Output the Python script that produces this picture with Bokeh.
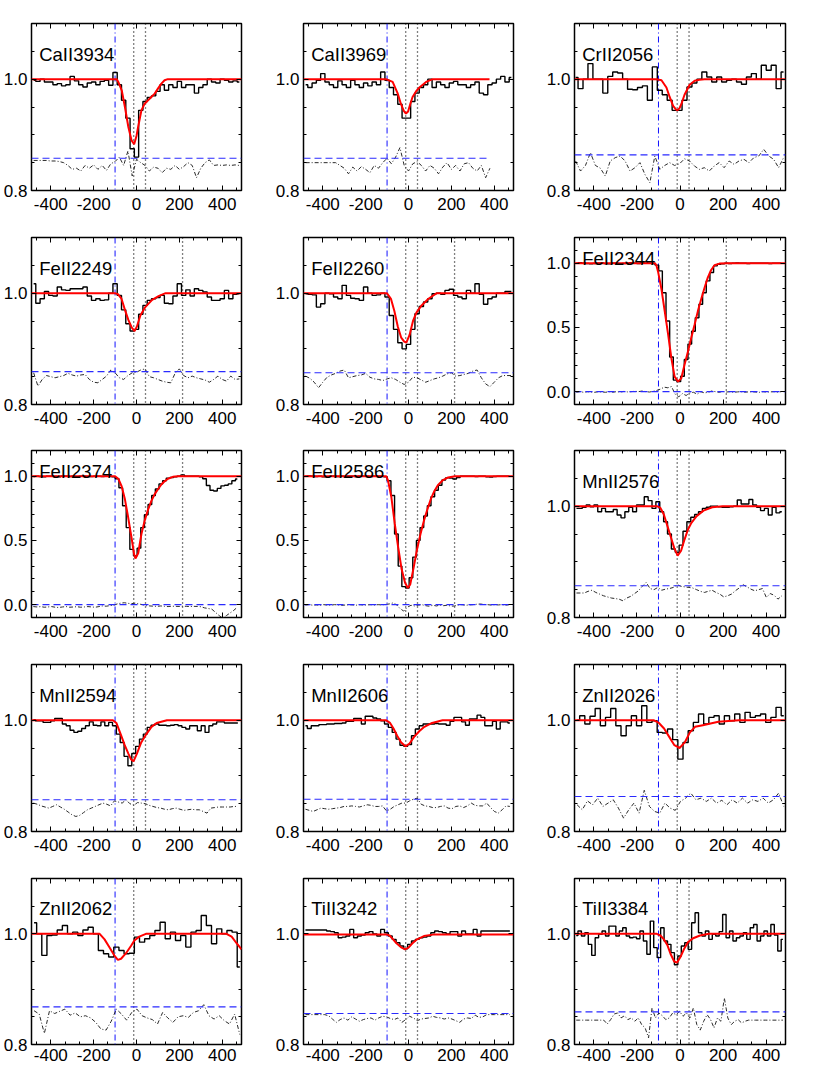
import numpy as np
from bokeh.plotting import figure
from bokeh.layouts import column, row
from bokeh.models import (Range1d, FixedTicker, LinearAxis, Span, Label,
                          PrintfTickFormatter, CustomJSTickFormatter)
from bokeh.embed import file_html
from bokeh.resources import INLINE

FONT = "Liberation Sans"

# ---------------- panel meta ----------------
line_names = ["CaII3934", "CaII3969", "CrII2056",
              "FeII2249", "FeII2260", "FeII2344",
              "FeII2374", "FeII2586", "MnII2576",
              "MnII2594", "MnII2606", "ZnII2026",
              "ZnII2062", "TiII3242", "TiII3384"]
strong = [False, False, False, False, False, True, True, True,
          False, False, False, False, False, False, False]
bin_start = [-480, -480, -485, -480, -480, -481.5, -481.5, -481.5,
             -481, -481, -481, -478, -478, -481, -482]
bin_width = [20, 20, 23, 20, 20, 17, 17, 17, 18, 18, 18, 24, 24, 18, 16]
ref_level = [0.858, 0.858, 0.864, 0.859, 0.857, 0.0, 0.0, 0.0,
             0.857, 0.857, 0.858, 0.863, 0.868, 0.856, 0.859]
ref_xmax = [490, 378, 490, 490, 490, 490, 490, 490,
            490, 490, 490, 490, 490, 490, 490]
blue_marker = -100
comp_vel = [-13, 42, 215]
n_comp = [2, 2, 2, 3, 3, 3, 3, 3, 2, 2, 2, 1, 1, 2, 2]

x_major = [-400, -200, 0, 200, 400]
x_minor = [-466.67, -333.33, -266.67, -133.33, -66.67, 66.67, 133.33, 266.67, 333.33, 466.67]
weak_major = [0.8, 1.0]
weak_minor = [0.85, 0.9, 0.95, 1.05]
strong_major = [0.0, 0.5, 1.0]
strong_minor = [-0.1, 0.1, 0.2, 0.3, 0.4, 0.6, 0.7, 0.8, 0.9, 1.1]

# ---------------- spectra ----------------
ca3934_flux = [0.998, 0.996, 1.0, 0.995, 0.995, 0.99, 0.992, 0.988, 0.99, 1.005,
               0.997, 0.99, 0.986, 0.993, 0.995, 0.99, 0.996, 0.998, 0.989, 1.012,
               0.99, 0.962, 0.93, 0.875, 0.86, 0.944, 0.96, 0.967, 0.97, 0.978,
               0.99, 0.98, 0.99, 0.985, 0.996, 0.985, 0.99, 0.99, 0.975, 0.985,
               0.99, 1.0, 0.995, 0.993, 1.0, 0.998, 0.995, 0.997, 0.995]
ca3934_err = [0.854, 0.854, 0.854, 0.854, 0.853, 0.853, 0.852, 0.85, 0.845, 0.838,
              0.84, 0.835, 0.845, 0.84, 0.846, 0.838, 0.845, 0.836, 0.848, 0.852,
              0.86, 0.845, 0.871, 0.826, 0.856, 0.85, 0.845, 0.835, 0.842, 0.84,
              0.832, 0.84, 0.838, 0.845, 0.838, 0.843, 0.85, 0.845, 0.823, 0.84,
              0.85, 0.855, 0.845, 0.846, 0.845, 0.846, 0.845, 0.846, 0.845]
ca3934_fit_v = [-490, -92, -85, -69, -54, -38, -23, -11, 0, 8, 23, 38, 54, 69, 85, 100, 116, 131, 146, 490]
ca3934_fit = [1.0, 1.0, 0.995, 0.98, 0.95, 0.914, 0.89, 0.883, 0.898, 0.915, 0.944, 0.956, 0.962, 0.968,
              0.974, 0.983, 0.992, 0.998, 1.0, 1.0]

ca3969_flux = [0.99, 0.985, 0.993, 0.998, 1.01, 0.995, 0.99, 0.985, 0.997, 0.99,
               0.985, 0.998, 0.99, 0.985, 0.993, 0.988, 0.995, 0.99, 1.013, 0.998,
               0.985, 0.972, 0.955, 0.93, 0.93, 0.96, 0.975, 0.985, 0.99, 1.0,
               0.985, 0.995, 0.99, 0.985, 0.993, 0.996, 0.99, 0.99, 0.985, 0.99,
               0.995, 0.975, 0.972, 0.99, 0.993, 1.0, 1.005, 0.995, 1.003]
ca3969_err = [0.85, 0.85, 0.85, 0.85, 0.85, 0.85, 0.85, 0.85, 0.845, 0.84,
              0.83, 0.842, 0.835, 0.843, 0.838, 0.832, 0.845, 0.84, 0.85, 0.858,
              0.848, 0.86, 0.877, 0.845, 0.835, 0.848, 0.852, 0.845, 0.835, 0.845,
              0.84, 0.83, 0.842, 0.85, 0.838, 0.845, 0.835, 0.848, 0.85, 0.84,
              0.835, 0.845, 0.823, 0.84]
ca3969_fit_v = [-490, -105, -74, -51, -35, -22, -12, -2, 8, 19, 35, 51, 82, 113, 378]
ca3969_fit = [1.0, 1.0, 0.995, 0.975, 0.955, 0.943, 0.938, 0.942, 0.955, 0.968, 0.978, 0.985, 0.995, 1.0, 1.0]

cr2056_flux = [1.003, 0.983, 1.0, 1.028, 1.0, 1.0, 0.975, 1.005, 1.013, 1.011,
               1.0, 0.982, 0.981, 0.985, 0.988, 0.962, 1.022, 0.98, 0.972, 0.962,
               0.944, 0.944, 0.962, 0.986, 0.993, 1.0, 1.013, 1.004, 0.995, 1.004,
               0.995, 0.998, 1.0, 0.995, 0.991, 1.004, 1.01, 1.0, 1.025, 1.016,
               1.025, 0.983, 1.013]
cr2056_err = [0.853, 0.835, 0.845, 0.868, 0.845, 0.84, 0.826, 0.853, 0.859, 0.862,
              0.853, 0.835, 0.841, 0.85, 0.829, 0.814, 0.862, 0.838, 0.845, 0.85,
              0.845, 0.848, 0.857, 0.853, 0.844, 0.838, 0.841, 0.835, 0.844, 0.85,
              0.841, 0.853, 0.847, 0.853, 0.856, 0.85, 0.859, 0.862, 0.874, 0.862,
              0.856, 0.841, 0.859]
cr2056_fit_v = [-490, -109, -86, -63, -48, -32, -20, -12, -2, 6, 21, 45, 68, 90, 114, 490]
cr2056_fit = [1.0, 1.0, 0.998, 0.985, 0.968, 0.952, 0.946, 0.944, 0.948, 0.955, 0.972, 0.99, 0.997,
              0.999, 1.0, 1.0]

fe2249_flux = [1.017, 0.982, 0.99, 1.003, 0.996, 0.995, 1.011, 1.006, 1.005, 1.008,
               1.008, 1.008, 1.011, 0.995, 0.987, 0.99, 0.987, 0.988, 1.0, 1.017,
               0.996, 0.97, 0.945, 0.932, 0.935, 0.962, 0.978, 0.987, 0.99, 0.992,
               0.996, 0.982, 0.981, 0.995, 1.017, 0.996, 1.006, 0.995, 1.008, 1.005,
               1.002, 0.993, 0.987, 0.987, 0.99, 1.005, 0.99, 0.998, 0.999]
fe2249_err = [0.857, 0.833, 0.845, 0.852, 0.85, 0.848, 0.85, 0.852, 0.856, 0.853,
              0.851, 0.853, 0.854, 0.845, 0.84, 0.839, 0.845, 0.851, 0.862, 0.857,
              0.848, 0.845, 0.852, 0.857, 0.858, 0.862, 0.864, 0.85, 0.848, 0.845,
              0.842, 0.84, 0.839, 0.856, 0.864, 0.852, 0.848, 0.851, 0.848, 0.846,
              0.844, 0.84, 0.845, 0.851, 0.845, 0.842, 0.851, 0.845, 0.846]
fe2249_fit_v = [-490, -101, -86, -70, -54, -38, -22, -9, 2, 18, 41, 73, 105, 136, 490]
fe2249_fit = [1.0, 1.0, 0.998, 0.99, 0.97, 0.952, 0.938, 0.932, 0.94, 0.96, 0.975, 0.988, 0.995, 1.0, 1.0]

fe2260_flux = [0.999, 0.998, 0.997, 0.975, 0.981, 1.0, 0.999, 0.993, 0.99, 1.014,
               0.996, 0.991, 0.99, 0.987, 1.011, 1.0, 0.996, 0.997, 1.0, 0.993,
               0.96, 0.935, 0.911, 0.9, 0.908, 0.935, 0.963, 0.976, 0.984, 0.99,
               0.999, 1.0, 0.998, 1.005, 1.007, 0.996, 0.993, 0.99, 1.005, 1.0,
               1.017, 0.998, 0.98, 0.99, 0.993, 1.0, 1.0, 1.003, 1.003]
fe2260_err = [0.851, 0.847, 0.84, 0.83, 0.84, 0.849, 0.853, 0.856, 0.86, 0.862,
              0.848, 0.85, 0.852, 0.853, 0.856, 0.849, 0.846, 0.845, 0.843, 0.846,
              0.848, 0.845, 0.84, 0.836, 0.84, 0.849, 0.848, 0.844, 0.84, 0.843,
              0.846, 0.848, 0.851, 0.855, 0.857, 0.851, 0.852, 0.854, 0.856, 0.86,
              0.862, 0.848, 0.837, 0.832, 0.84, 0.848, 0.852, 0.852, 0.852]
fe2260_fit_v = [-490, -101, -82, -66, -50, -34, -20, -10, 5, 21, 37, 61, 93, 132, 490]
fe2260_fit = [1.0, 1.0, 0.99, 0.968, 0.94, 0.92, 0.913, 0.911, 0.925, 0.95, 0.965, 0.978, 0.99, 1.0, 1.0]

fe2344_flux = [1.0, 1.003, 1.0, 0.998, 0.995, 0.998, 1.0, 1.002, 0.997, 0.995,
               1.0, 1.0, 0.997, 0.998, 1.0, 1.003, 1.0, 0.998, 1.005, 1.01,
               1.0, 0.998, 0.985, 0.94, 0.77, 0.55, 0.27, 0.09, 0.078, 0.12,
               0.25, 0.37, 0.47, 0.575, 0.68, 0.77, 0.862, 0.927, 0.979, 0.992,
               0.995, 1.0, 0.998, 1.0, 1.002, 1.0, 1.0, 0.998, 1.0, 1.0,
               1.0, 1.0, 1.0, 0.998, 1.0, 1.0, 1.0]
fe2344_err = [-0.005, 0.0, -0.005, 0.0, -0.003, -0.005, 0.0, -0.002, -0.005, 0.0,
              -0.004, 0.0, -0.003, 0.002, -0.002, 0.0, 0.003, 0.0, 0.005, 0.0,
              -0.003, 0.003, 0.01, 0.02, 0.035, 0.03, 0.04, -0.02, -0.04, -0.015,
              -0.03, -0.01, -0.005, -0.02, 0.0, -0.01, -0.005, 0.005, 0.0, -0.005,
              0.002, -0.003, 0.0, -0.005, -0.002, 0.0, -0.004, -0.002, 0.0, -0.003,
              -0.005, 0.0, -0.003, -0.002, 0.0, -0.004, 0.0]
fe2344_fit_v = [-490, -117, -110, -101, -86, -71, -55, -40, -25, -9, 6, 21, 37, 52, 68, 83, 98, 114,
                129, 144, 160, 183, 221, 490]
fe2344_fit = [1.0, 1.0, 0.985, 0.927, 0.796, 0.627, 0.444, 0.26, 0.117, 0.078, 0.104, 0.209, 0.313,
              0.418, 0.522, 0.627, 0.718, 0.809, 0.888, 0.945, 0.984, 0.997, 1.0, 1.0]

fe2374_flux = [0.998, 1.0, 0.997, 0.995, 1.0, 1.0, 0.998, 0.996, 1.0, 1.0,
               0.997, 1.0, 0.995, 1.0, 1.0, 0.998, 0.997, 1.0, 1.0, 0.998,
               1.0, 1.0, 0.995, 0.98, 0.91, 0.77, 0.6, 0.43, 0.38, 0.44,
               0.6, 0.7, 0.78, 0.85, 0.9, 0.94, 0.965, 0.985, 0.99, 0.995,
               1.0, 1.01, 1.0, 1.0, 1.0, 1.0, 0.995, 0.98, 0.927, 0.89,
               0.885, 0.905, 0.925, 0.93, 0.94, 0.965, 0.978]
fe2374_err = [-0.015, -0.018, -0.015, -0.02, -0.018, -0.015, -0.02, -0.022, -0.018, -0.015,
              -0.02, -0.018, -0.016, -0.02, -0.018, -0.015, -0.018, -0.02, -0.015, -0.01,
              -0.012, -0.008, -0.005, 0.005, 0.012, 0.015, 0.01, 0.008, 0.012, 0.005,
              0.0, -0.008, -0.01, -0.012, -0.013, -0.01, -0.013, -0.015, -0.012, -0.013,
              -0.014, -0.012, -0.013, -0.015, -0.013, -0.014, -0.016, -0.025, -0.03, -0.035,
              -0.06, -0.085, -0.105, -0.085, -0.065, -0.045, -0.02]
fe2374_fit_v = [-490, -100, -85, -69, -54, -39, -23, -11, -5, 8, 23, 39, 54, 70, 85, 101, 116, 131,
                147, 170, 193, 490]
fe2374_fit = [1.0, 1.0, 0.98, 0.92, 0.82, 0.68, 0.52, 0.39, 0.36, 0.40, 0.55, 0.66, 0.74, 0.81, 0.86,
              0.90, 0.935, 0.96, 0.98, 0.995, 1.0, 1.0]

fe2586_flux = [1.0, 1.002, 1.0, 0.998, 1.0, 0.995, 0.997, 1.0, 1.0, 0.998,
               1.0, 0.997, 1.0, 1.0, 0.998, 1.0, 1.0, 1.0, 0.998, 1.0,
               1.0, 1.0, 0.995, 0.965, 0.85, 0.55, 0.3, 0.14, 0.13, 0.21,
               0.37, 0.5, 0.6, 0.69, 0.77, 0.84, 0.89, 0.93, 0.97, 0.987,
               0.985, 0.978, 0.99, 1.0, 1.0, 1.0, 1.0, 0.998, 1.0, 1.0,
               0.995, 0.993, 0.998, 1.0, 1.0, 1.0, 1.0]
fe2586_err = [-0.003, 0.0, -0.004, -0.002, -0.005, 0.0, -0.003, -0.004, 0.0, -0.002,
              -0.005, -0.003, 0.0, -0.002, -0.004, 0.0, -0.003, -0.002, 0.0, -0.003,
              0.0, -0.002, 0.002, 0.005, 0.013, 0.0, -0.03, -0.05, -0.02, -0.005,
              -0.01, -0.004, 0.0, -0.008, -0.012, -0.005, -0.01, -0.003, -0.008, -0.004,
              -0.012, -0.01, -0.003, 0.0, -0.005, -0.002, 0.0, 0.003, 0.005, 0.002,
              0.0, -0.003, 0.0, -0.002, 0.0, -0.004, 0.0]
fe2586_fit_v = [-490, -104, -96, -80, -64, -48, -32, -16, -3, 8, 24, 40, 56, 72, 89, 105, 121, 137,
                161, 185, 217, 490]
fe2586_fit = [1.0, 1.0, 0.97, 0.838, 0.628, 0.445, 0.275, 0.17, 0.13, 0.157, 0.288, 0.432, 0.55,
              0.654, 0.746, 0.825, 0.885, 0.93, 0.97, 0.99, 1.0, 1.0]

mn2576_flux = [0.996, 0.996, 0.998, 1.002, 0.999, 1.002, 0.99, 0.996, 0.99, 0.99,
               0.994, 0.984, 0.979, 0.99, 0.998, 0.99, 1.002, 1.002, 1.017, 1.01,
               0.996, 1.008, 0.99, 0.972, 0.95, 0.923, 0.917, 0.93, 0.955, 0.972,
               0.98, 0.985, 0.99, 0.996, 0.998, 1.0, 1.0, 0.999, 0.998, 0.998,
               0.999, 1.0, 1.011, 1.004, 1.004, 1.012, 1.002, 0.998, 0.992, 0.996,
               0.984, 0.998, 0.988, 0.99]
mn2576_err = [0.844, 0.844, 0.844, 0.847, 0.849, 0.845, 0.842, 0.839, 0.837, 0.835,
              0.834, 0.833, 0.83, 0.835, 0.838, 0.843, 0.848, 0.856, 0.863, 0.852,
              0.85, 0.854, 0.849, 0.851, 0.852, 0.854, 0.859, 0.856, 0.855, 0.854,
              0.853, 0.85, 0.847, 0.845, 0.847, 0.849, 0.845, 0.842, 0.837, 0.839,
              0.842, 0.848, 0.853, 0.859, 0.855, 0.851, 0.848, 0.85, 0.852, 0.836,
              0.843, 0.84, 0.833, 0.839]
mn2576_fit_v = [-490, -107, -91, -75, -59, -43, -27, -11, 5, 21, 37, 53, 77, 109, 150, 198, 490]
mn2576_fit = [1.0, 1.0, 0.997, 0.985, 0.965, 0.945, 0.925, 0.911, 0.92, 0.94, 0.958, 0.97, 0.982,
              0.992, 0.998, 1.0, 1.0]

mn2594_flux = [1.001, 0.999, 0.999, 0.996, 0.996, 0.999, 1.003, 1.003, 0.993, 0.99,
               0.982, 0.978, 0.98, 0.985, 0.99, 0.997, 0.991, 0.99, 0.997, 0.99,
               0.996, 0.99, 0.975, 0.96, 0.935, 0.918, 0.94, 0.953, 0.966, 0.975,
               0.987, 0.991, 0.993, 0.991, 0.991, 0.99, 0.991, 0.992, 0.99, 0.987,
               0.984, 0.99, 0.99, 0.981, 0.99, 0.978, 0.99, 0.993, 0.997, 0.997,
               0.995, 0.995, 0.995, 0.995]
mn2594_err = [0.851, 0.849, 0.846, 0.844, 0.842, 0.845, 0.848, 0.844, 0.84, 0.835,
              0.83, 0.827, 0.829, 0.834, 0.839, 0.842, 0.845, 0.848, 0.851, 0.849,
              0.846, 0.855, 0.853, 0.851, 0.857, 0.85, 0.847, 0.852, 0.851, 0.85,
              0.847, 0.845, 0.843, 0.842, 0.84, 0.839, 0.841, 0.842, 0.84, 0.838,
              0.839, 0.84, 0.839, 0.839, 0.836, 0.833, 0.842, 0.843, 0.844, 0.844,
              0.844, 0.844, 0.845, 0.845]
mn2594_fit_v = [-490, -110, -94, -74, -55, -38, -26, -14, 2, 22, 46, 70, 94, 142, 490]
mn2594_fit = [1.0, 1.0, 0.995, 0.975, 0.955, 0.94, 0.93, 0.926, 0.94, 0.96, 0.975, 0.988, 0.995, 1.0, 1.0]

mn2606_flux = [0.99, 0.985, 0.99, 0.99, 0.992, 0.992, 0.993, 0.993, 0.994, 0.994,
               0.995, 0.998, 0.998, 1.003, 1.003, 0.993, 1.007, 1.007, 1.004, 1.002,
               0.999, 0.993, 0.987, 0.978, 0.966, 0.955, 0.953, 0.956, 0.972, 0.984,
               0.99, 0.993, 0.993, 0.993, 0.994, 0.993, 0.993, 0.991, 0.998, 1.005,
               1.005, 0.997, 0.991, 1.002, 1.002, 1.009, 1.005, 0.99, 0.99, 0.998,
               0.984, 0.997, 0.997, 0.995]
mn2606_err = [0.84, 0.838, 0.836, 0.839, 0.842, 0.841, 0.84, 0.841, 0.842, 0.843,
              0.845, 0.845, 0.846, 0.845, 0.844, 0.846, 0.848, 0.847, 0.845, 0.845,
              0.846, 0.837, 0.84, 0.845, 0.848, 0.851, 0.851, 0.855, 0.858, 0.86,
              0.849, 0.846, 0.845, 0.843, 0.843, 0.845, 0.846, 0.842, 0.841, 0.845,
              0.846, 0.843, 0.846, 0.851, 0.847, 0.846, 0.846, 0.851, 0.843, 0.836,
              0.833, 0.839, 0.846, 0.845]
mn2606_fit_v = [-490, -106, -86, -70, -53, -34, -14, 5, 26, 50, 74, 110, 159, 490]
mn2606_fit = [1.0, 1.0, 0.995, 0.985, 0.972, 0.96, 0.953, 0.958, 0.97, 0.98, 0.988, 0.995, 1.0, 1.0]

zn2026_flux = [1.0, 1.008, 0.993, 1.007, 1.021, 0.99, 1.005, 1.021, 0.99, 0.972,
               0.99, 1.008, 0.99, 1.026, 0.996, 0.999, 0.978, 0.977, 0.984, 0.965,
               0.93, 0.96, 0.981, 0.996, 1.011, 0.993, 1.005, 1.008, 0.993, 1.008,
               0.999, 1.011, 0.996, 1.014, 1.005, 1.008, 1.011, 0.996, 1.005, 1.023,
               1.008]
zn2026_err = [0.848, 0.839, 0.855, 0.848, 0.86, 0.845, 0.851, 0.857, 0.842, 0.824,
              0.839, 0.851, 0.833, 0.874, 0.845, 0.836, 0.833, 0.851, 0.842, 0.838,
              0.854, 0.86, 0.869, 0.857, 0.86, 0.854, 0.86, 0.851, 0.856, 0.848,
              0.857, 0.851, 0.86, 0.851, 0.857, 0.854, 0.86, 0.851, 0.857, 0.869,
              0.845]
zn2026_fit_v = [-490, -123, -98, -74, -50, -26, -2, 22, 46, 70, 106, 178, 274, 490]
zn2026_fit = [1.0, 1.0, 0.995, 0.985, 0.97, 0.955, 0.95, 0.96, 0.978, 0.988, 0.991, 0.997, 1.0, 1.0]

zn2062_flux = [1.02, 1.0, 0.961, 0.997, 0.998, 1.007, 1.015, 1.0, 1.003, 0.997,
               1.007, 1.012, 1.0, 0.97, 0.964, 0.958, 0.976, 0.97, 0.964, 0.965,
               0.994, 0.985, 0.991, 0.997, 1.006, 1.021, 0.991, 1.003, 0.988, 0.997,
               0.976, 1.003, 1.006, 1.033, 1.015, 0.982, 1.009, 1.0, 1.006, 1.003,
               0.94]
zn2062_err = [0.861, 0.855, 0.82, 0.861, 0.856, 0.86, 0.864, 0.853, 0.857, 0.85,
              0.852, 0.848, 0.84, 0.828, 0.826, 0.842, 0.864, 0.855, 0.844, 0.858,
              0.864, 0.852, 0.848, 0.845, 0.837, 0.858, 0.848, 0.84, 0.85, 0.852,
              0.849, 0.858, 0.861, 0.872, 0.852, 0.846, 0.852, 0.843, 0.837, 0.855,
              0.818]
zn2062_fit_v = [-490, -172, -149, -125, -102, -87, -72, -49, -26, -10, 13, 44, 420, 444, 467, 490]
zn2062_fit = [1.0, 1.0, 0.99, 0.975, 0.96, 0.953, 0.955, 0.965, 0.978, 0.988, 0.995, 1.0, 1.0,
              0.995, 0.983, 0.972]

ti3242_flux = [1.007, 1.007, 1.007, 1.007, 1.007, 1.007, 1.005, 1.004, 1.002, 0.993,
               0.994, 0.996, 1.008, 0.993, 0.996, 0.998, 1.002, 1.004, 1.0, 0.996,
               1.008, 1.002, 0.996, 0.99, 0.984, 0.978, 0.973, 0.981, 0.987, 0.99,
               0.993, 0.994, 0.996, 1.002, 1.005, 1.004, 1.002, 1.0, 1.004, 1.004,
               0.996, 1.005, 1.0, 1.0, 1.008, 0.996, 1.005, 1.005, 1.005, 1.005,
               1.005, 1.005, 1.005, 1.005]
ti3242_err = [0.854, 0.854, 0.854, 0.854, 0.854, 0.854, 0.852, 0.846, 0.84, 0.845,
              0.848, 0.844, 0.85, 0.846, 0.842, 0.845, 0.847, 0.848, 0.844, 0.848,
              0.851, 0.85, 0.847, 0.845, 0.848, 0.84, 0.845, 0.851, 0.848, 0.843,
              0.846, 0.847, 0.848, 0.851, 0.849, 0.848, 0.846, 0.848, 0.846, 0.843,
              0.84, 0.846, 0.848, 0.847, 0.853, 0.849, 0.85, 0.854, 0.854, 0.854,
              0.854, 0.854, 0.854, 0.854]
ti3242_fit_v = [-490, -104, -88, -72, -56, -32, -16, 0, 16, 40, 72, 121, 490]
ti3242_fit = [0.999, 0.999, 0.997, 0.99, 0.983, 0.975, 0.972, 0.975, 0.982, 0.99, 0.996, 0.999, 0.999]

ti3384_flux = [0.997, 1.005, 0.996, 1.002, 0.981, 0.961, 0.993, 0.999, 1.005, 0.996,
               1.014, 1.014, 0.996, 1.005, 1.011, 0.996, 0.993, 0.994, 0.991, 1.005,
               0.987, 0.963, 1.023, 0.975, 0.957, 1.011, 0.987, 0.981, 0.966, 0.944,
               0.96, 0.978, 0.984, 0.972, 1.02, 1.038, 1.002, 0.996, 1.005, 0.99,
               0.999, 0.996, 1.004, 1.035, 0.993, 1.005, 0.987, 0.993, 0.996, 1.002,
               0.99, 1.011, 1.017, 0.987, 0.996, 1.005, 0.996, 1.017, 0.998, 0.969,
               0.99]
ti3384_err = [0.844, 0.844, 0.844, 0.844, 0.844, 0.844, 0.844, 0.844, 0.844, 0.837,
              0.845, 0.855, 0.857, 0.848, 0.852, 0.845, 0.848, 0.842, 0.848, 0.836,
              0.83, 0.812, 0.866, 0.848, 0.857, 0.852, 0.845, 0.848, 0.857, 0.854,
              0.86, 0.851, 0.857, 0.848, 0.866, 0.836, 0.826, 0.842, 0.854, 0.845,
              0.83, 0.848, 0.842, 0.884, 0.848, 0.836, 0.842, 0.845, 0.839, 0.842,
              0.844, 0.844, 0.844, 0.844, 0.844, 0.844, 0.844, 0.844, 0.844, 0.844,
              0.844]
ti3384_fit_v = [-490, -108, -91, -75, -59, -43, -27, -14, 2, 18, 37, 61, 93, 134, 490]
ti3384_fit = [1.0, 1.0, 0.997, 0.99, 0.98, 0.963, 0.95, 0.948, 0.958, 0.972, 0.985, 0.992, 0.997, 1.0, 1.0]

fluxes = [ca3934_flux, ca3969_flux, cr2056_flux, fe2249_flux, fe2260_flux, fe2344_flux,
          fe2374_flux, fe2586_flux, mn2576_flux, mn2594_flux, mn2606_flux, zn2026_flux,
          zn2062_flux, ti3242_flux, ti3384_flux]
errors = [ca3934_err, ca3969_err, cr2056_err, fe2249_err, fe2260_err, fe2344_err,
          fe2374_err, fe2586_err, mn2576_err, mn2594_err, mn2606_err, zn2026_err,
          zn2062_err, ti3242_err, ti3384_err]
fit_vs = [ca3934_fit_v, ca3969_fit_v, cr2056_fit_v, fe2249_fit_v, fe2260_fit_v, fe2344_fit_v,
          fe2374_fit_v, fe2586_fit_v, mn2576_fit_v, mn2594_fit_v, mn2606_fit_v, zn2026_fit_v,
          zn2062_fit_v, ti3242_fit_v, ti3384_fit_v]
fits = [ca3934_fit, ca3969_fit, cr2056_fit, fe2249_fit, fe2260_fit, fe2344_fit,
        fe2374_fit, fe2586_fit, mn2576_fit, mn2594_fit, mn2606_fit, zn2026_fit,
        zn2062_fit, ti3242_fit, ti3384_fit]

X_MIN, X_MAX = -490, 490
WEAK_Y = (0.8, 1.1)
STRONG_Y = (-0.1, 1.2)
TICK_FONT = "17px"

# layout geometry (pixels): per column and per row
col_width = [272, 271, 252]
col_right = [31, 30, 10]
row_height = [222, 213, 214, 214, 204]
row_top = [23, 15, 15, 15, 15]
row_bottom = [32, 31, 32, 32, 23]
row_xstandoff = [7, 7, 7, 7, 4]


def style_axis(ax, standoff):
    ax.axis_line_color = None
    ax.major_tick_in = 5
    ax.major_tick_out = 0
    ax.minor_tick_in = 3
    ax.minor_tick_out = 0
    ax.major_tick_line_color = "black"
    ax.minor_tick_line_color = "black"
    ax.major_tick_line_width = 1
    ax.minor_tick_line_width = 1
    ax.major_label_text_font = FONT
    ax.major_label_text_font_size = TICK_FONT
    ax.major_label_text_color = "black"
    ax.major_label_standoff = standoff


def mirror_axis(ticker):
    ax = LinearAxis(ticker=ticker, formatter=CustomJSTickFormatter(code="return ''"))
    style_axis(ax, 0)
    ax.major_label_text_font_size = "1px"
    return ax


def make_panel(i, col, rw):
    is_strong = strong[i]
    ymaj, ymin = (strong_major, strong_minor) if is_strong else (weak_major, weak_minor)
    yr = STRONG_Y if is_strong else WEAK_Y
    p = figure(width=col_width[col], height=row_height[rw], x_range=Range1d(X_MIN, X_MAX),
               y_range=Range1d(*yr), output_backend="svg", toolbar_location=None,
               tools="", min_border_left=29, min_border_right=col_right[col],
               min_border_top=row_top[rw], min_border_bottom=row_bottom[rw])
    p.grid.visible = False
    p.background_fill_color = "white"
    p.border_fill_color = "white"
    p.outline_line_color = "black"
    p.outline_line_width = 1.5
    p.outline_line_alpha = 1.0

    p.xaxis.ticker = FixedTicker(ticks=x_major, minor_ticks=x_minor)
    p.yaxis.ticker = FixedTicker(ticks=ymaj, minor_ticks=ymin)
    p.xaxis.formatter = PrintfTickFormatter(format="%d")
    p.yaxis.formatter = PrintfTickFormatter(format="%.1f")
    for ax in p.xaxis:
        style_axis(ax, row_xstandoff[rw])
    for ax in p.yaxis:
        style_axis(ax, 4)
    p.add_layout(mirror_axis(FixedTicker(ticks=x_major, minor_ticks=x_minor)), "above")
    p.add_layout(mirror_axis(FixedTicker(ticks=ymaj, minor_ticks=ymin)), "right")

    # vertical markers
    p.add_layout(Span(location=blue_marker, dimension="height", line_color="#1010ff",
                      line_dash="6 3 1 3", line_width=1, level="underlay"))
    for c in comp_vel[:n_comp[i]]:
        p.add_layout(Span(location=c, dimension="height", line_color="black",
                          line_dash="1 3", line_width=1.3, level="underlay"))

    flux = fluxes[i]
    v = bin_start[i] + bin_width[i] * np.arange(len(flux))
    err = errors[i]
    ve = bin_start[i] + bin_width[i] * np.arange(len(err))

    # error spectrum and its reference level
    p.line(ve, err, line_color="#2a2a2a", line_width=1.0, line_dash="4 2 1 2")
    p.line([X_MIN, ref_xmax[i]], [ref_level[i], ref_level[i]], line_color="#2a2aff",
           line_width=1.1, line_dash="7 4")

    # data histogram and model
    p.step(v, flux, mode="center", line_color="black", line_width=1.4)
    p.line(fit_vs[i], fits[i], line_color="#ff0000", line_width=2.0)

    lab_y = 1.04 if is_strong else 1.045
    p.add_layout(Label(x=-454, y=lab_y, text=line_names[i], text_font=FONT,
                       text_font_size="18.5px", text_color="black",
                       text_baseline="alphabetic", text_align="left"))
    return p


rows = []
for r in range(5):
    figs = [make_panel(r * 3 + c, c, r) for c in range(3)]
    rows.append(row(*figs))
layout = column(*rows)

open("out.html", "w").write(file_html(layout, INLINE, title="Absorption lines"))
